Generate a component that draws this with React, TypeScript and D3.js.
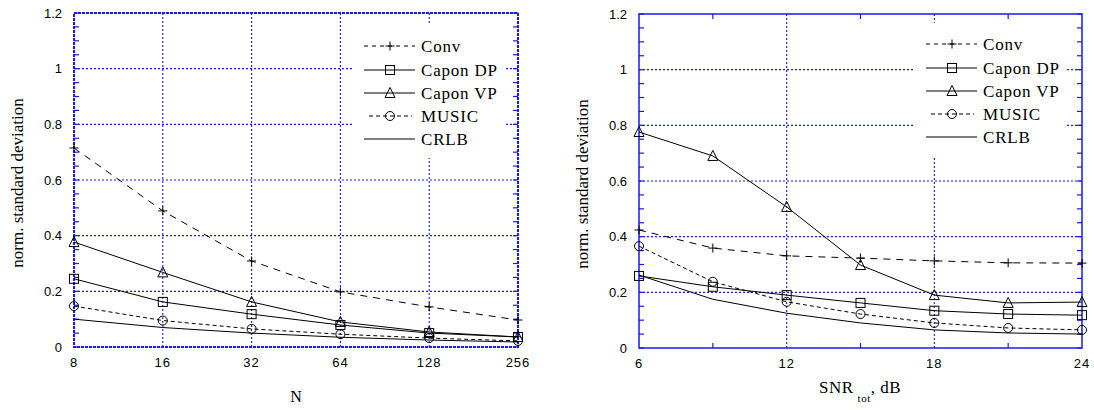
import React from "react";
import * as d3 from "d3";

// ---- data ----
const nValues = [8, 16, 32, 64, 128, 256];
const nConv = [0.715, 0.489, 0.309, 0.198, 0.144, 0.097];
const nCaponDP = [0.245, 0.162, 0.118, 0.079, 0.05, 0.036];
const nCaponVP = [0.377, 0.268, 0.162, 0.09, 0.054, 0.036];
const nMusic = [0.147, 0.095, 0.065, 0.046, 0.032, 0.022];
const nCrlb = [0.1, 0.07, 0.05, 0.035, 0.025, 0.018];

const snrValues = [6, 9, 12, 15, 18, 21, 24];
const sConv = [0.424, 0.359, 0.331, 0.323, 0.313, 0.306, 0.305];
const sCaponDP = [0.259, 0.22, 0.19, 0.162, 0.134, 0.122, 0.118];
const sCaponVP = [0.776, 0.69, 0.507, 0.298, 0.19, 0.162, 0.165];
const sMusic = [0.366, 0.238, 0.166, 0.122, 0.09, 0.072, 0.065];
const sCrlb = [0.262, 0.175, 0.125, 0.09, 0.065, 0.054, 0.05];

const leftTicks = [8, 16, 32, 64, 128, 256];
const rightTicks = [6, 12, 18, 24];
const rightMinorTicks = [9, 15, 21];
const yTicks = [0, 0.2, 0.4, 0.6, 0.8, 1, 1.2];
const yMinor = d3.range(0, 1.2001, 0.05);

const seriesNames = ["Conv", "Capon DP", "Capon VP", "MUSIC", "CRLB"];
const seriesMarkers = ["plus", "square", "triangle", "circle", "none"];
const seriesDash = ["7,6", "", "", "4,3", ""];

const BLUE = "#1a1aee";
const SERIF = "Liberation Serif, Times New Roman, serif";
const SANS = "Liberation Sans, Arial, sans-serif";

function Marker({ type, x, y }: { type: string; x: number; y: number }) {
  const s = 4.5;
  if (type === "plus")
    return (
      <path d={`M${x - s},${y}H${x + s}M${x},${y - s}V${y + s}`} stroke="#000" strokeWidth={1} fill="none" />
    );
  if (type === "square")
    return <rect x={x - s} y={y - s} width={2 * s} height={2 * s} stroke="#000" fill="none" strokeWidth={1} />;
  if (type === "triangle")
    return (
      <path d={`M${x},${y - s - 1}L${x + s + 0.5},${y + s}L${x - s - 0.5},${y + s}Z`} stroke="#000" fill="none" strokeWidth={1} />
    );
  if (type === "circle") return <circle cx={x} cy={y} r={s} stroke="#000" fill="none" strokeWidth={1} />;
  return null;
}

type PanelProps = {
  x: any;
  y: d3.ScaleLinear<number, number>;
  xs: number[];
  series: number[][];
  ticks: number[];
  gridX: number[];
  minorX: number[];
  dottedFrame: boolean;
  legend: { x0: number; y0: number; w: number; h: number };
  yLabelX: number;
};

function Panel(p: PanelProps) {
  const [x0, x1] = p.x.range();
  const [yb, yt] = p.y.range();
  const line = (vals: number[]) =>
    d3
      .line<number>()
      .x((_, i) => p.x(p.xs[i]))
      .y((v) => p.y(v))(vals) as string;
  const L = p.legend;
  const rowY = [21, 45, 68, 91, 114].map((d) => L.y0 + d);
  return (
    <g>
      {/* gridlines */}
      {yTicks
        .filter((t) => t > 0 && t < 1.2)
        .map((t) => (
          <line key={"gy" + t} x1={x0} x2={x1} y1={p.y(t)} y2={p.y(t)} stroke={BLUE} strokeWidth={1.1} strokeDasharray="2,2" />
        ))}
      {p.gridX.map((t) => (
        <line key={"gx" + t} x1={p.x(t)} x2={p.x(t)} y1={yb} y2={yt} stroke={BLUE} strokeWidth={1.1} strokeDasharray="2,2" />
      ))}
      {/* minor ticks */}
      {yMinor.map((t, i) => (
        <g key={"my" + i}>
          <line x1={x0} x2={x0 + 5} y1={p.y(t)} y2={p.y(t)} stroke={BLUE} strokeWidth={1.2} />
          <line x1={x1} x2={x1 - 5} y1={p.y(t)} y2={p.y(t)} stroke={BLUE} strokeWidth={1.2} />
        </g>
      ))}
      {p.minorX.map((t) => (
        <g key={"mx" + t}>
          <line x1={p.x(t)} x2={p.x(t)} y1={yb} y2={yb - 5} stroke={BLUE} strokeWidth={1.2} />
          <line x1={p.x(t)} x2={p.x(t)} y1={yt} y2={yt + 5} stroke={BLUE} strokeWidth={1.2} />
        </g>
      ))}
      {/* legend background */}
      <rect x={L.x0} y={L.y0} width={L.w} height={L.h} fill="#fff" />
      {/* frame */}
      <rect
        x={x0}
        y={yt}
        width={x1 - x0}
        height={yb - yt}
        fill="none"
        stroke={BLUE}
        strokeWidth={p.dottedFrame ? 2 : 1.5}
        strokeDasharray={p.dottedFrame ? "3,1" : undefined}
      />
      {/* tick labels */}
      {yTicks.map((t) => (
        <text key={"yl" + t} x={x0 - 12} y={p.y(t) + 4.5} textAnchor="end" fontFamily={SANS} fontSize={13}>
          {String(t)}
        </text>
      ))}
      {p.ticks.map((t) => (
        <text key={"xl" + t} x={p.x(t)} y={yb + 20} textAnchor="middle" fontFamily={SANS} fontSize={13} letterSpacing={1}>
          {String(t)}
        </text>
      ))}
      <text
        transform={`translate(${p.yLabelX},${(yb + yt) / 2 + 3}) rotate(-90)`}
        textAnchor="middle"
        fontFamily={SERIF}
        fontSize={17}
        dy="0.35em"
      >
        norm. standard deviation
      </text>
      {/* series */}
      {p.series.map((vals, si) => (
        <g key={"s" + si}>
          <path d={line(vals)} fill="none" stroke="#000" strokeWidth={1} strokeDasharray={seriesDash[si] || undefined} />
          {vals.map((v, i) => (
            <Marker key={i} type={seriesMarkers[si]} x={p.x(p.xs[i])} y={p.y(v)} />
          ))}
        </g>
      ))}
      {/* legend */}
      {seriesNames.map((name, si) => {
        const ly = rowY[si];
        const lx0 = si === 3 ? L.x0 + 16 : L.x0 + 11;
        const lx1 = si === 3 ? L.x0 + 59 : L.x0 + 62;
        return (
          <g key={"lg" + si}>
            <line
              x1={lx0}
              x2={lx1}
              y1={ly}
              y2={ly}
              stroke="#000"
              strokeWidth={1}
              strokeDasharray={si === 0 ? "4,4" : si === 3 ? "4,3" : undefined}
            />
            <Marker type={seriesMarkers[si]} x={L.x0 + 37} y={ly} />
            <text x={L.x0 + 68} y={ly + 6} fontFamily={SERIF} fontSize={17} letterSpacing={0.8}>
              {name}
            </text>
          </g>
        );
      })}
    </g>
  );
}

export default function App() {
  const xL = d3.scaleLog().base(2).domain([8, 256]).range([74, 518]);
  const yL = d3.scaleLinear().domain([0, 1.2]).range([347, 13]);
  const xR = d3.scaleLinear().domain([6, 24]).range([639, 1082]);
  const yR = d3.scaleLinear().domain([0, 1.2]).range([348, 14]);
  return (
    <svg width={1094} height={410} style={{ position: "absolute", left: 0, top: 0, background: "#fff" }}>
      <rect width={1094} height={410} fill="#fff" />
      <Panel
        x={xL}
        y={yL}
        xs={nValues}
        series={[nConv, nCaponDP, nCaponVP, nMusic, nCrlb]}
        ticks={leftTicks}
        gridX={leftTicks.slice(1, -1)}
        minorX={[]}
        dottedFrame={true}
        legend={{ x0: 353, y0: 25, w: 152, h: 133 }}
        yLabelX={17}
      />
      <Panel
        x={xR}
        y={yR}
        xs={snrValues}
        series={[sConv, sCaponDP, sCaponVP, sMusic, sCrlb]}
        ticks={rightTicks}
        gridX={rightTicks.slice(1, -1)}
        minorX={rightMinorTicks}
        dottedFrame={false}
        legend={{ x0: 915, y0: 23, w: 152, h: 134 }}
        yLabelX={582}
      />
      <text x={296} y={402} textAnchor="middle" fontFamily={SERIF} fontSize={16}>
        N
      </text>
      <text x={819} y={393} fontFamily={SERIF} fontSize={17} letterSpacing={0.5}>
        SNR
        <tspan fontSize={11} dx={4} dy={9}>tot</tspan>
        <tspan dy={-9}>, dB</tspan>
      </text>
    </svg>
  );
}
